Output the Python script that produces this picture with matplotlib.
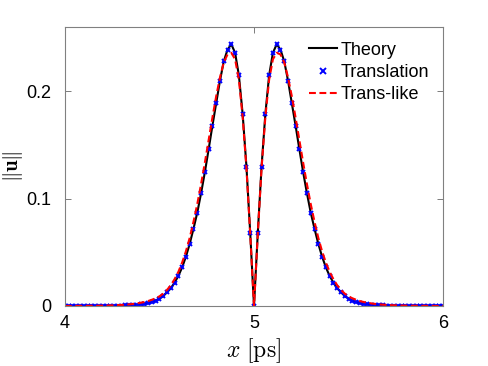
import numpy as np
import matplotlib
matplotlib.use("Agg")
import matplotlib.pyplot as plt

plt.rcParams['font.family'] = ['Liberation Sans', 'DejaVu Sans']
plt.rcParams['mathtext.fontset'] = 'cm'

# sample positions (ps), 0.02 apart
x = np.round(np.linspace(4, 6, 101), 2)

# ||u||
theory = [
    0.0000, 0.0000, 0.0000, 0.0000, 0.0000, 0.0000, 0.0001, 0.0001, 0.0001, 0.0001,
    0.0001, 0.0002, 0.0002, 0.0003, 0.0003, 0.0004, 0.0005, 0.0006, 0.0008, 0.0011,
    0.0015, 0.0020, 0.0027, 0.0037, 0.0050, 0.0068, 0.0093, 0.0128, 0.0165, 0.0218,
    0.0280, 0.0360, 0.0460, 0.0580, 0.0720, 0.0870, 0.1050, 0.1246, 0.1460, 0.1680,
    0.1890, 0.2100, 0.2280, 0.2390, 0.2440, 0.2360, 0.2150, 0.1790, 0.1300, 0.0680,
    0.0000,
    0.0680, 0.1300, 0.1790, 0.2150, 0.2360, 0.2440, 0.2390, 0.2280, 0.2100, 0.1890,
    0.1680, 0.1460, 0.1246, 0.1050, 0.0870, 0.0720, 0.0580, 0.0460, 0.0360, 0.0280,
    0.0218, 0.0165, 0.0128, 0.0093, 0.0068, 0.0050, 0.0037, 0.0027, 0.0020, 0.0015,
    0.0011, 0.0008, 0.0006, 0.0005, 0.0004, 0.0003, 0.0003, 0.0002, 0.0002, 0.0001,
    0.0001, 0.0001, 0.0001, 0.0001, 0.0000, 0.0000, 0.0000, 0.0000, 0.0000, 0.0000,
]

# the translation markers sit on the theory curve
translation = list(theory)

trans_like = [
    0.0000, 0.0000, 0.0000, 0.0001, 0.0001, 0.0001, 0.0001, 0.0002, 0.0002, 0.0002,
    0.0003, 0.0004, 0.0005, 0.0006, 0.0008, 0.0010, 0.0012, 0.0015, 0.0019, 0.0024,
    0.0030, 0.0037, 0.0046, 0.0058, 0.0072, 0.0090, 0.0115, 0.0150, 0.0193, 0.0250,
    0.0318, 0.0405, 0.0510, 0.0635, 0.0785, 0.0950, 0.1135, 0.1335, 0.1545, 0.1755,
    0.1955, 0.2130, 0.2270, 0.2345, 0.2360, 0.2300, 0.2110, 0.1760, 0.1285, 0.0670,
    0.0000,
    0.0670, 0.1285, 0.1760, 0.2110, 0.2300, 0.2360, 0.2345, 0.2270, 0.2130, 0.1955,
    0.1755, 0.1545, 0.1335, 0.1135, 0.0950, 0.0785, 0.0635, 0.0510, 0.0405, 0.0318,
    0.0250, 0.0193, 0.0150, 0.0115, 0.0090, 0.0072, 0.0058, 0.0046, 0.0037, 0.0030,
    0.0024, 0.0019, 0.0015, 0.0012, 0.0010, 0.0008, 0.0006, 0.0005, 0.0004, 0.0003,
    0.0002, 0.0002, 0.0002, 0.0001, 0.0001, 0.0001, 0.0001, 0.0000, 0.0000, 0.0000,
]

fig = plt.figure(figsize=(4.88, 3.66), dpi=100)
ax = fig.add_axes([0.133, 0.164, 0.775, 0.762])

ax.plot(x, theory, '-', color='black', lw=1.5, label='Theory')
ax.plot(x, translation, 'x', color='blue', ms=3, mew=1.4, label='Translation')
ax.plot(x, trans_like, '--', color='red', lw=1.5, dashes=(3.3, 1.7), label='Trans-like')

ax.set_xlim(4, 6)
ax.set_ylim(0, 0.26)
ax.set_xticks([4, 5, 6])
ax.set_yticks([0, 0.1, 0.2])
ax.set_yticklabels(['0', '0.1', '0.2'])
ax.tick_params(direction='in', length=4, width=0.6, color='0.4',
               top=True, right=True, labelsize=13)
ax.tick_params(axis='x', pad=6.5)
ax.tick_params(axis='y', pad=10)
for sp in ax.spines.values():
    sp.set_color('0.5')
    sp.set_linewidth(0.8)

ax.set_xlabel(r'$x\ \mathrm{[ps]}$', fontsize=17, labelpad=3)
ax.set_ylabel(r'$\|\mathbf{u}\|$', fontsize=15)
ax.yaxis.set_label_coords(-0.105, 0.5)

ax.legend(loc='upper right', frameon=False, fontsize=13, handlelength=1.5,
          handletextpad=0.2, labelspacing=0.3, borderaxespad=0.4,
          markerscale=1.3)

fig.savefig('out.png', dpi=100)
